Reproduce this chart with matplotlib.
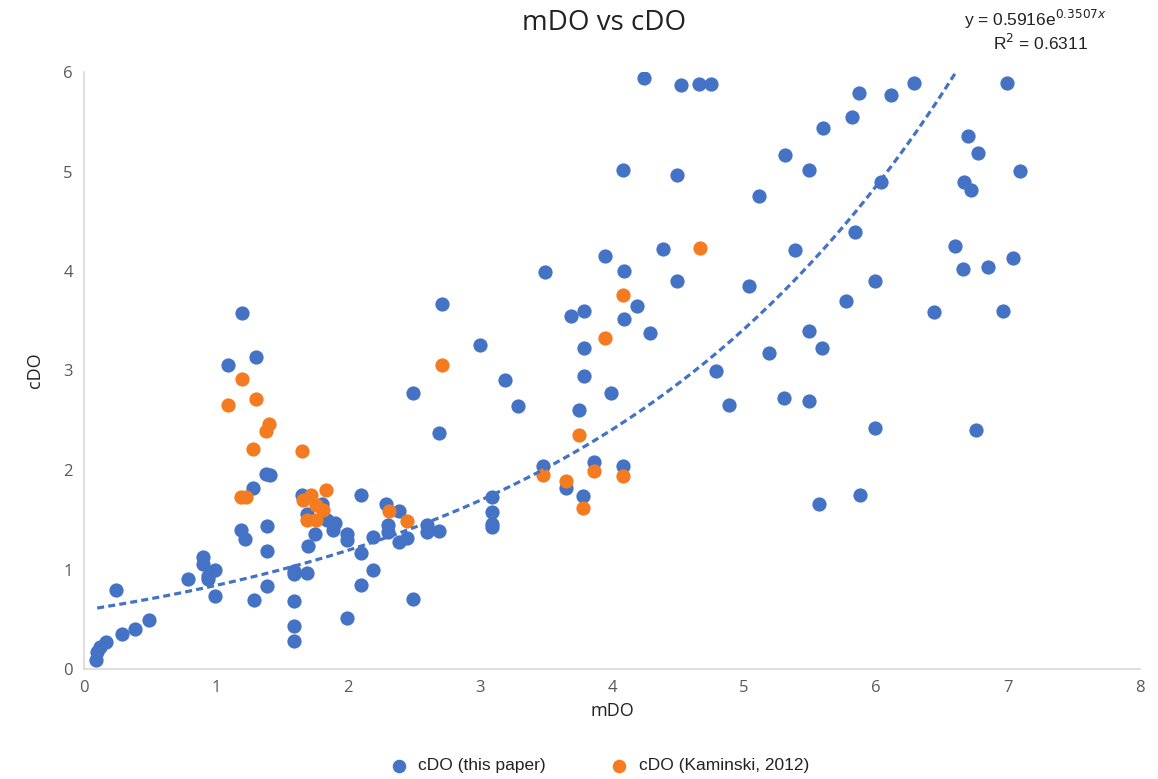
import numpy as np
import matplotlib
matplotlib.use("Agg")
import matplotlib.pyplot as plt

plt.rcParams["font.family"] = ["Open Sans", "DejaVu Sans"]

# cDO (this paper)
blue_x = [4.24, 4.52, 4.66, 4.75, 5.87, 6.11, 6.29, 6.99,
          5.60, 5.82, 5.31, 5.49, 6.70, 6.77, 7.09, 6.67, 6.72, 6.04, 5.84, 5.39,
          6.60, 6.66, 6.85, 7.04, 5.99, 5.77, 6.44, 6.96, 5.49, 5.59, 5.30, 5.49,
          5.99, 6.76,
          4.08, 4.49, 5.11, 4.39, 3.95, 3.49, 4.09, 4.49, 5.04, 4.19, 3.69, 3.79,
          4.09, 4.29, 3.00, 3.79, 5.19, 4.79, 3.19, 3.79, 3.29, 3.99, 4.89, 3.75,
          3.48, 3.86, 4.08, 3.65, 3.78, 3.09, 3.09, 3.09, 3.09, 5.57, 5.88,
          1.20, 2.71, 1.30, 1.09, 2.49, 2.69, 1.38, 1.41, 1.28, 1.65, 2.10, 2.29,
          2.39, 1.80, 1.69, 1.84, 1.90, 1.89, 1.75, 1.99, 1.99, 2.19, 2.30, 2.30,
          2.39, 2.45, 2.60, 2.60, 2.69, 1.19, 1.22, 1.39, 1.39, 1.70, 2.10, 2.19,
          2.10, 2.49, 1.99, 1.59, 1.59, 1.69, 1.59, 1.59, 1.59, 1.39, 1.29, 0.99,
          0.99, 0.94, 0.94, 0.90, 0.90, 0.79, 0.24, 0.49, 0.39, 0.29, 0.17, 0.12,
          0.10, 0.09]
blue_y = [5.94, 5.87, 5.88, 5.88, 5.79, 5.77, 5.89, 5.89,
          5.44, 5.55, 5.17, 5.02, 5.36, 5.19, 5.01, 4.89, 4.81, 4.89, 4.39, 4.21,
          4.25, 4.02, 4.04, 4.13, 3.90, 3.70, 3.59, 3.60, 3.40, 3.23, 2.72, 2.69,
          2.42, 2.40,
          5.02, 4.96, 4.75, 4.22, 4.15, 3.99, 4.00, 3.90, 3.85, 3.65, 3.55, 3.60,
          3.52, 3.38, 3.26, 3.23, 3.18, 3.00, 2.90, 2.94, 2.64, 2.77, 2.65, 2.60,
          2.04, 2.08, 2.04, 1.82, 1.74, 1.73, 1.58, 1.46, 1.43, 1.66, 1.75,
          3.58, 3.67, 3.14, 3.06, 2.77, 2.37, 1.96, 1.95, 1.82, 1.75, 1.75, 1.66,
          1.59, 1.66, 1.56, 1.50, 1.47, 1.40, 1.36, 1.36, 1.30, 1.33, 1.45, 1.38,
          1.28, 1.32, 1.45, 1.38, 1.39, 1.40, 1.31, 1.44, 1.19, 1.24, 1.17, 0.99,
          0.84, 0.70, 0.51, 0.98, 0.95, 0.96, 0.68, 0.43, 0.28, 0.83, 0.69, 0.73,
          1.00, 0.93, 0.90, 1.13, 1.06, 0.90, 0.79, 0.49, 0.40, 0.35, 0.27, 0.22,
          0.17, 0.09]

# cDO (Kaminski, 2012)
orange_x = [1.09, 1.20, 1.30, 1.28, 1.38, 1.40, 1.19, 1.23, 1.65, 1.83, 1.72,
            1.66, 1.76, 1.81, 1.69, 1.76, 2.31, 2.45, 2.71, 3.48, 3.65, 3.78,
            3.75, 3.86, 4.08, 3.95, 4.08, 4.67]
orange_y = [2.65, 2.91, 2.71, 2.21, 2.39, 2.46, 1.73, 1.73, 2.19, 1.80, 1.75,
            1.70, 1.65, 1.60, 1.50, 1.50, 1.59, 1.49, 3.06, 1.95, 1.89, 1.62,
            2.35, 1.99, 1.94, 3.33, 3.76, 4.23]

# exponential trendline y = a*exp(b*x)
trend_a = 0.5916
trend_b = 0.3507
trend_r2 = 0.6311

blue = "#4472C4"
orange = "#F47B20"

fig = plt.figure(figsize=(11.58, 7.79), dpi=100)
ax = fig.add_axes([84 / 1158, 110 / 779, 1056 / 1158, 597 / 779])

ax.scatter(blue_x, blue_y, s=105, color=blue, linewidths=0, zorder=3,
           label="cDO (this paper)")
ax.scatter(orange_x, orange_y, s=105, color=orange, linewidths=0, zorder=4,
           label="cDO (Kaminski, 2012)")

x_end = np.log(6 / trend_a) / trend_b
tx = np.linspace(0.1, x_end, 200)
ax.plot(tx, trend_a * np.exp(trend_b * tx), color=blue, lw=2.3,
        ls=(0, (2.2, 1.3)), zorder=5)

ax.set_xlim(0, 8)
ax.set_ylim(0, 6)
ax.set_xticks(range(0, 9))
ax.set_yticks(range(0, 7))
for side in ["top", "right"]:
    ax.spines[side].set_visible(False)
for side in ["left", "bottom"]:
    ax.spines[side].set_color("#d9d9d9")
    ax.spines[side].set_linewidth(1.2)
ax.tick_params(length=0, labelsize=12, colors="#595959", pad=8)

ax.set_xlabel("mDO", fontsize=13, color="#222222", labelpad=4)
ax.set_ylabel("cDO", fontsize=13, color="#222222", labelpad=14)
fig.text(0.522, 0.970, "mDO vs cDO", ha="center", va="center", fontsize=20,
         color="#222222")

eq_font = ["Liberation Sans", "DejaVu Sans"]
fig.text(0.956, 0.975, r"y = %.4fe$^{%.4fx}$" % (trend_a, trend_b),
         ha="right", va="center", fontsize=12.5, color="#222222",
         family=eq_font)
fig.text(0.940, 0.945, r"R$^2$ = %.4f" % trend_r2, ha="right", va="center",
         fontsize=12.5, color="#222222", family=eq_font)

fig.legend(loc="center", bbox_to_anchor=(0.514, 0.017), ncol=2, frameon=False,
           handletextpad=0.15, columnspacing=3.2, markerscale=0.95,
           labelcolor="#222222",
           prop={"family": ["Liberation Sans", "DejaVu Sans"], "size": 12.5})

fig.savefig("out.png", dpi=100)
